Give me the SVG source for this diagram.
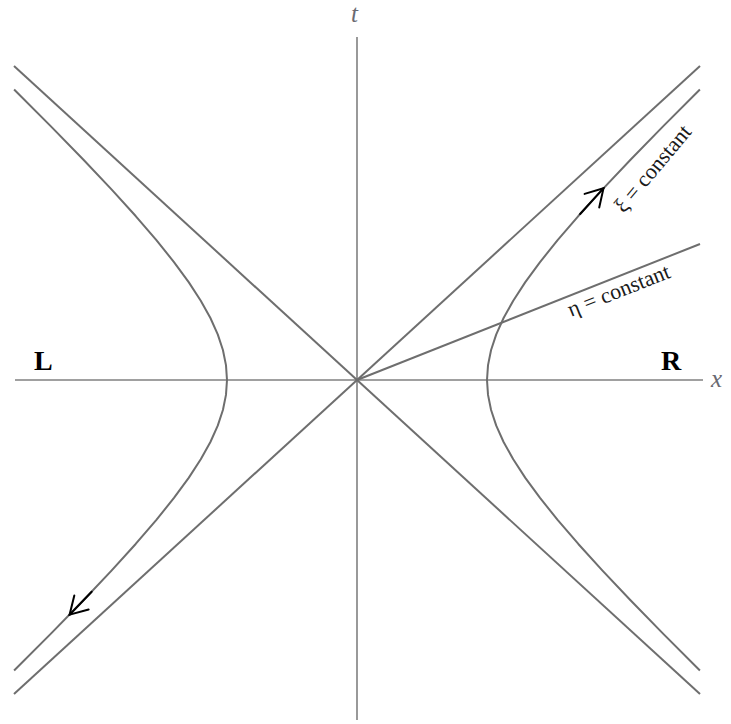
<svg xmlns="http://www.w3.org/2000/svg" xmlns:xlink="http://www.w3.org/1999/xlink" width="731" height="724" viewBox="0 0 731 724">
<style>
.axis{stroke:#808080;stroke-width:1.6;fill:none}
.line{stroke:#6e6e6e;stroke-width:2;fill:none;stroke-linejoin:round}
.arrow{stroke:#000;stroke-width:2;fill:none;stroke-linejoin:miter;stroke-linecap:round}
.ax{font-family:"Liberation Serif","Times New Roman",serif;font-style:italic;font-size:25px;fill:#6a6a72}
.reg{font-family:"Liberation Serif","Times New Roman",serif;font-weight:bold;font-size:28px;fill:#000}
.lbl{font-family:"Liberation Serif","Times New Roman",serif;font-size:22px;fill:#1a1a1a}
</style>
<defs>
<path id="ah" d="M-17,-10 L0,0 L-17,10"/>
</defs>
<rect width="731" height="724" fill="#fff"/>
<g id="axes">
<line class="axis" x1="15" y1="380" x2="703" y2="380"/>
<line class="axis" x1="357" y1="37" x2="357" y2="720"/>
</g>
<g id="asymptotes">
<line class="line" x1="14" y1="66" x2="700" y2="694"/>
<line class="line" x1="700" y1="66" x2="14" y2="694"/>
</g>
<g id="eta-line">
<line class="line" x1="357" y1="380" x2="700" y2="244"/>
</g>
<g id="hyperbola-R">
<polyline class="line" points="699.9,89.55 662.81,126.62 630.51,159.72 602.5,189.37 578.32,216.04 557.6,240.15 540.02,262.07 525.31,282.14 513.23,300.69 503.59,317.99 496.25,334.32 491.08,349.94 488.02,365.09 487,380 488.02,394.91 491.08,410.06 496.25,425.68 503.59,442.01 513.23,459.31 525.31,477.86 540.02,497.93 557.6,519.85 578.32,543.96 602.5,570.63 630.51,600.28 662.81,633.38 699.9,670.45"/>
</g>
<g id="hyperbola-L">
<polyline class="line" points="14.1,89.55 51.19,126.62 83.49,159.72 111.5,189.37 135.68,216.04 156.4,240.15 173.98,262.07 188.69,282.14 200.77,300.69 210.41,317.99 217.75,334.32 222.92,349.94 225.98,365.09 227,380 225.98,394.91 222.92,410.06 217.75,425.68 210.41,442.01 200.77,459.31 188.69,477.86 173.98,497.93 156.4,519.85 135.68,543.96 111.5,570.63 83.49,600.28 51.19,633.38 14.1,670.45"/>
</g>
<g id="arrows">
<path class="arrow" d="M580.1,214 L602.5,189.37 L603.5,188.25"/>
<use href="#ah" class="arrow" transform="translate(603.5,188.25) rotate(-47)"/>
<path class="arrow" d="M91.7,591.7 L83.49,600.28 L69.6,614.7"/>
<use href="#ah" class="arrow" transform="translate(69.6,614.7) rotate(134.3)"/>
</g>
<g id="labels">
<text class="ax" x="351" y="22">t</text>
<text class="ax" x="711" y="387">x</text>
<text class="reg" x="34" y="370">L</text>
<text class="reg" x="661" y="370">R</text>
<text class="lbl" transform="translate(571,317) rotate(-21.6)">η = constant</text>
<text class="lbl" transform="translate(624,214) rotate(-50)">ξ = constant</text>
</g>
</svg>
